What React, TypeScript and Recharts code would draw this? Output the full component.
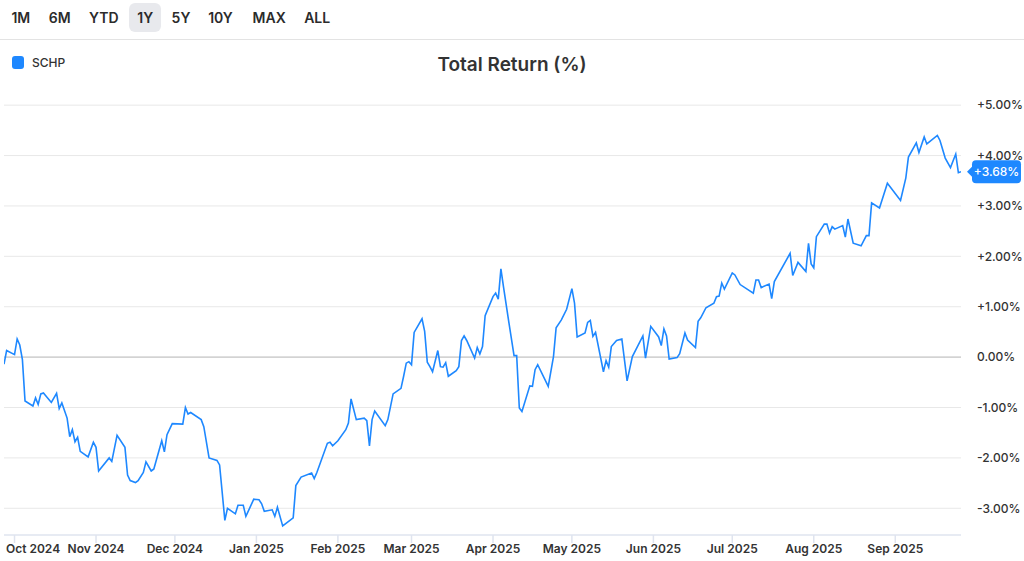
import React from "react";
import {
  LineChart,
  Line,
  XAxis,
  YAxis,
  CartesianGrid,
  ReferenceLine,
  ReferenceDot,
} from "recharts";

const dates = [
  "2024-09-27", "2024-09-28", "2024-10-01", "2024-10-02", "2024-10-03", "2024-10-04", "2024-10-05",
  "2024-10-08", "2024-10-09", "2024-10-10", "2024-10-11", "2024-10-12", "2024-10-15", "2024-10-17",
  "2024-10-18", "2024-10-19", "2024-10-21", "2024-10-22", "2024-10-23", "2024-10-24", "2024-10-25",
  "2024-10-26", "2024-10-29", "2024-10-31", "2024-11-01", "2024-11-02", "2024-11-06", "2024-11-07",
  "2024-11-09", "2024-11-12", "2024-11-13", "2024-11-14", "2024-11-16", "2024-11-17", "2024-11-19",
  "2024-11-20", "2024-11-22", "2024-11-23", "2024-11-26", "2024-11-27", "2024-11-28", "2024-11-30",
  "2024-12-04", "2024-12-05", "2024-12-06", "2024-12-07", "2024-12-11", "2024-12-12", "2024-12-14",
  "2024-12-17", "2024-12-18", "2024-12-20", "2024-12-21", "2024-12-24", "2024-12-25", "2024-12-27",
  "2024-12-28", "2024-12-31", "2025-01-02", "2025-01-03", "2025-01-04", "2025-01-07", "2025-01-08",
  "2025-01-09", "2025-01-11", "2025-01-15", "2025-01-16", "2025-01-18", "2025-01-22", "2025-01-23",
  "2025-01-24", "2025-01-28", "2025-01-29", "2025-01-30", "2025-02-01", "2025-02-04", "2025-02-05",
  "2025-02-06", "2025-02-08", "2025-02-11", "2025-02-12", "2025-02-13", "2025-02-14", "2025-02-15",
  "2025-02-19", "2025-02-20", "2025-02-22", "2025-02-25", "2025-02-26", "2025-02-27", "2025-02-28",
  "2025-03-01", "2025-03-02", "2025-03-05", "2025-03-06", "2025-03-07", "2025-03-08", "2025-03-09",
  "2025-03-11", "2025-03-12", "2025-03-13", "2025-03-14", "2025-03-15", "2025-03-18", "2025-03-19",
  "2025-03-20", "2025-03-21", "2025-03-22", "2025-03-25", "2025-03-26", "2025-03-27", "2025-03-28",
  "2025-03-29", "2025-04-01", "2025-04-02", "2025-04-03", "2025-04-04", "2025-04-05", "2025-04-07",
  "2025-04-09", "2025-04-10", "2025-04-11", "2025-04-12", "2025-04-15", "2025-04-16", "2025-04-17",
  "2025-04-18", "2025-04-22", "2025-04-24", "2025-04-25", "2025-04-27", "2025-04-29", "2025-05-01",
  "2025-05-02", "2025-05-03", "2025-05-06", "2025-05-07", "2025-05-08", "2025-05-09", "2025-05-10",
  "2025-05-13", "2025-05-14", "2025-05-15", "2025-05-16", "2025-05-18", "2025-05-20", "2025-05-22",
  "2025-05-24", "2025-05-28", "2025-05-29", "2025-05-31", "2025-06-03", "2025-06-04", "2025-06-05",
  "2025-06-06", "2025-06-07", "2025-06-10", "2025-06-11", "2025-06-13", "2025-06-14", "2025-06-17",
  "2025-06-18", "2025-06-19", "2025-06-21", "2025-06-24", "2025-06-25", "2025-06-26", "2025-06-27",
  "2025-06-28", "2025-07-01", "2025-07-02", "2025-07-04", "2025-07-09", "2025-07-10", "2025-07-11",
  "2025-07-12", "2025-07-15", "2025-07-16", "2025-07-17", "2025-07-23", "2025-07-24", "2025-07-26",
  "2025-07-29", "2025-07-30", "2025-07-31", "2025-08-01", "2025-08-02", "2025-08-05", "2025-08-06",
  "2025-08-07", "2025-08-08", "2025-08-09", "2025-08-12", "2025-08-13", "2025-08-14", "2025-08-16",
  "2025-08-19", "2025-08-21", "2025-08-22", "2025-08-23", "2025-08-26", "2025-08-29", "2025-09-03",
  "2025-09-05", "2025-09-06", "2025-09-09", "2025-09-10", "2025-09-12", "2025-09-13", "2025-09-17",
  "2025-09-18", "2025-09-20", "2025-09-22", "2025-09-24", "2025-09-25", "2025-09-26",
];

// total return in %, SCHP
const schp = [
  -0.14, 0.13, 0.05, 0.36, 0.24, -0.05, -0.87,
  -0.97, -0.81, -0.94, -0.73, -0.71, -0.9, -0.72,
  -1.02, -0.91, -1.21, -1.58, -1.44, -1.68, -1.59,
  -1.87, -1.98, -1.69, -1.79, -2.26, -2.0, -2.07,
  -1.55, -1.79, -2.34, -2.45, -2.49, -2.45, -2.29,
  -2.08, -2.26, -2.22, -1.66, -1.88, -1.54, -1.32,
  -1.33, -1.0, -1.13, -1.1, -1.24, -1.38, -2.0,
  -2.05, -2.14, -3.24, -3.0, -3.11, -2.94, -2.94,
  -3.16, -2.82, -2.83, -2.91, -3.06, -3.03, -3.16,
  -2.98, -3.35, -3.19, -2.55, -2.38, -2.3, -2.41,
  -2.29, -1.71, -1.69, -1.76, -1.66, -1.44, -1.31,
  -0.83, -1.24, -1.21, -1.26, -1.76, -1.24, -1.07,
  -1.36, -1.24, -0.73, -0.62, -0.38, -0.12, -0.09,
  -0.15, 0.49, 0.76, 0.51, -0.1, -0.19, -0.29,
  0.13, -0.19, -0.2, -0.11, -0.38, -0.27, -0.19,
  0.33, 0.42, 0.33, -0.02, 0.19, 0.06, 0.21,
  0.82, 1.2, 1.27, 1.15, 1.75, 1.39, 0.7,
  0.03, 0.03, -1.01, -1.08, -0.57, -0.58, -0.25,
  -0.15, -0.58, 0.01, 0.58, 0.74, 0.95, 1.36,
  1.07, 0.4, 0.48, 0.69, 0.73, 0.41, 0.49,
  -0.29, -0.07, -0.2, 0.21, 0.33, 0.36, -0.47,
  0.01, 0.42, -0.02, 0.61, 0.4, 0.23, 0.56,
  0.42, -0.04, -0.01, 0.07, 0.48, 0.34, 0.19,
  0.71, 0.78, 0.98, 1.07, 1.2, 1.21, 1.47,
  1.35, 1.67, 1.63, 1.44, 1.27, 1.53, 1.53,
  1.38, 1.45, 1.16, 1.5, 2.06, 1.62, 1.88,
  1.7, 2.26, 1.85, 1.77, 2.39, 2.64, 2.64,
  2.46, 2.59, 2.54, 2.61, 2.38, 2.74, 2.26,
  2.21, 2.41, 2.41, 3.06, 2.96, 3.45, 3.11,
  3.55, 3.97, 4.25, 4.06, 4.37, 4.23, 4.4,
  4.3, 3.95, 3.76, 4.03, 3.66, 3.68,
];

const monthTicks = [
  "2024-10-01", "2024-11-01", "2024-12-01", "2025-01-01", "2025-02-01", "2025-03-01",
  "2025-04-01", "2025-05-01", "2025-06-01", "2025-07-01", "2025-08-01", "2025-09-01",
];
const monthLabels = [
  "Oct 2024", "Nov 2024", "Dec 2024", "Jan 2025", "Feb 2025", "Mar 2025",
  "Apr 2025", "May 2025", "Jun 2025", "Jul 2025", "Aug 2025", "Sep 2025",
];
const yTicks = [-3, -2, -1, 0, 1, 2, 3, 4, 5];
const ranges = ["1M", "6M", "YTD", "1Y", "5Y", "10Y", "MAX", "ALL"];
const rangeCenters = [20.8, 59.8, 103.8, 145.2, 181, 220.5, 269.2, 317.2];

const BLUE = "#1e88ff";
const TEXT = "#333";
const FONT = "Inter, 'Noto Sans', sans-serif";

const data = dates.map((d, i) => ({ t: Date.parse(d), v: schp[i] }));
const tickTimes = monthTicks.map((d) => Date.parse(d));

const fmtPct = (v: number) => (v > 0 ? "+" : "") + v.toFixed(2) + "%";

function MonthTick(props: any) {
  const { x, y, payload } = props;
  const idx = tickTimes.indexOf(payload.value);
  const label = monthLabels[idx] ?? "";
  const first = x < 40;
  return (
    <text
      x={first ? 6 : x}
      y={y}
      dy="0.71em"
      textAnchor={first ? "start" : "middle"}
      fill={TEXT}
      fontSize={12}
      fontWeight={600}
      fontFamily={FONT}
    >
      {label}
    </text>
  );
}

function PriceTag(props: any) {
  const { cx, cy } = props;
  if (cx == null || cy == null) return null;
  const left = cx + 11;
  const w = 49;
  const h = 23;
  return (
    <g>
      <path d={`M${cx + 6},${cy} L${left + 1},${cy - 6} L${left + 1},${cy + 6} Z`} fill={BLUE} />
      <rect x={left} y={cy - h / 2} width={w} height={h} rx={4} fill={BLUE} />
      <text
        x={left + w / 2}
        y={cy}
        dy="0.36em"
        textAnchor="middle"
        fill="#fff"
        fontSize={12}
        fontWeight={500}
        fontFamily={FONT}
      >
        {fmtPct(schp[schp.length - 1])}
      </text>
    </g>
  );
}

export default function App() {
  const last = data[data.length - 1];
  return (
    <div
      style={{
        position: "fixed",
        left: 0,
        top: 0,
        width: 1024,
        height: 561,
        background: "#fff",
        fontFamily: FONT,
        color: TEXT,
        overflow: "hidden",
      }}
    >
      {ranges.map((r, i) => (
        <div
          key={r}
          style={{
            position: "absolute",
            left: rangeCenters[i],
            top: 3,
            height: 29,
            lineHeight: "29px",
            transform: "translateX(-50%)",
            padding: "0 8px",
            borderRadius: 6,
            background: r === "1Y" ? "#e8e9ed" : "transparent",
            fontSize: 14,
            fontWeight: 600,
            color: "#2b2b2b",
            whiteSpace: "nowrap",
          }}
        >
          {r}
        </div>
      ))}
      <div style={{ position: "absolute", left: 0, top: 39, width: 1024, height: 1, background: "#e3e3e3" }} />

      <div style={{ position: "absolute", left: 12, top: 56, width: 12, height: 13, borderRadius: 3, background: BLUE }} />
      <div style={{ position: "absolute", left: 32, top: 54, fontSize: 12, fontWeight: 500, lineHeight: "17px" }}>SCHP</div>
      <div
        style={{
          position: "absolute",
          left: 0,
          width: 1024,
          top: 52,
          textAlign: "center",
          fontSize: 19,
          fontWeight: 600,
          lineHeight: "26px",
        }}
      >
        Total Return (%)
      </div>

      <div style={{ position: "absolute", left: 0, top: 0 }}>
        <LineChart
          width={1024}
          height={561}
          data={data}
          margin={{ top: 85, right: 0, bottom: 0, left: 4 }}
        >
          <CartesianGrid vertical={false} stroke="#e8e8e8" horizontalValues={yTicks} />
          <XAxis
            dataKey="t"
            type="number"
            domain={[data[0].t, last.t]}
            ticks={tickTimes}
            tick={<MonthTick />}
            tickSize={8}
            tickMargin={1}
            height={26}
            axisLine={{ stroke: "#dfe4ef", strokeWidth: 1.5 }}
            tickLine={{ stroke: "#dfe4ef", strokeWidth: 1.5 }}
            allowDataOverflow
            interval={0}
          />
          <YAxis
            orientation="right"
            type="number"
            domain={[-3.53, 5.4]}
            ticks={yTicks}
            tickFormatter={fmtPct}
            width={63}
            tickSize={0}
            tickMargin={16}
            axisLine={false}
            tickLine={false}
            allowDataOverflow
            interval={0}
            tick={{ fill: TEXT, fontSize: 12, fontWeight: 500, fontFamily: FONT }}
          />
          <ReferenceLine y={0} stroke="#c8c8c8" strokeWidth={1.2} />
          <Line
            type="linear"
            dataKey="v"
            stroke={BLUE}
            strokeWidth={1.6}
            dot={false}
            isAnimationActive={false}
          />
          <ReferenceDot x={last.t} y={last.v} shape={<PriceTag />} />
        </LineChart>
      </div>
    </div>
  );
}
